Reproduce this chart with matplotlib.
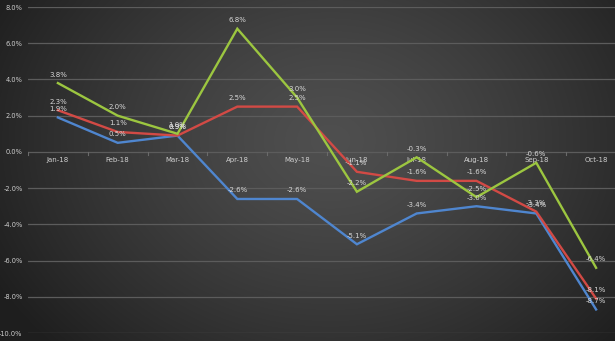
import numpy as np
import matplotlib.pyplot as plt

# monthly values (%)
months = ['Jan-18', 'Feb-18', 'Mar-18', 'Apr-18', 'May-18',
          'Jun-18', 'Jul-18', 'Aug-18', 'Sep-18', 'Oct-18']
blue_vals = [1.9, 0.5, 0.9, -2.6, -2.6, -5.1, -3.4, -3.0, -3.4, -8.7]
red_vals = [2.3, 1.1, 0.9, 2.5, 2.5, -1.1, -1.6, -1.6, -3.3, -8.1]
green_vals = [3.8, 2.0, 1.0, 6.8, 3.0, -2.2, -0.3, -2.5, -0.6, -6.4]
y_ticks = [8, 6, 4, 2, 0, -2, -4, -6, -8, -10]

W, H = 615, 341
fig = plt.figure(figsize=(W / 100, H / 100), dpi=100)

# dark radial-ish gradient background
bg = fig.add_axes([0, 0, 1, 1])
yy, xx = np.mgrid[0:H, 0:W]
d = np.sqrt(((xx - 330) / 380.0) ** 2 + ((yy - 140) / 300.0) ** 2)
shade = 0.31 - 0.19 * np.clip(d, 0, 1) ** 1.3
bg.imshow(np.dstack([shade] * 3), extent=[0, 1, 0, 1], aspect='auto')
bg.axis('off')

ax = fig.add_axes([28 / W, 8 / H, 598 / W, 326 / H])
ax.set_facecolor('none')
x = np.arange(len(months))

for y in y_ticks:
    ax.axhline(y, color='#5c5c5c', lw=0.9, zorder=1)
# small category separator ticks on the zero line
for b in np.arange(-0.5, len(months) + 0.5):
    ax.plot([b, b], [0, -0.18], color='#6a6a6a', lw=0.8, zorder=1)

series = [(blue_vals, '#4f86cf'), (red_vals, '#d24a45'), (green_vals, '#9cc640')]
for vals, col in series:
    ax.plot(x, vals, color=col, lw=1.7, zorder=3, solid_joinstyle='miter')
for vals, col in series:
    for xi, v in zip(x, vals):
        ax.annotate(f'{v:.1f}%', (xi, v), xytext=(0, 4), textcoords='offset points',
                    ha='center', va='bottom', fontsize=5.0, color='#d8d8d8', zorder=4)

for xi, m in zip(x, months):
    ax.annotate(m, (xi, 0), xytext=(0, -4), textcoords='offset points',
                ha='center', va='top', fontsize=5.0, color='#cfcfcf', zorder=2)

ax.set_xlim(-0.5, len(months) - 0.5)
ax.set_ylim(-10, 8)
ax.set_xticks([])
ax.set_yticks(y_ticks)
ax.set_yticklabels([f'{t:.1f}%' for t in y_ticks], fontsize=4.8, color='#cfcfcf')
ax.tick_params(axis='y', length=0, pad=4)
for s in ax.spines.values():
    s.set_visible(False)

fig.savefig('out.png', dpi=100)
